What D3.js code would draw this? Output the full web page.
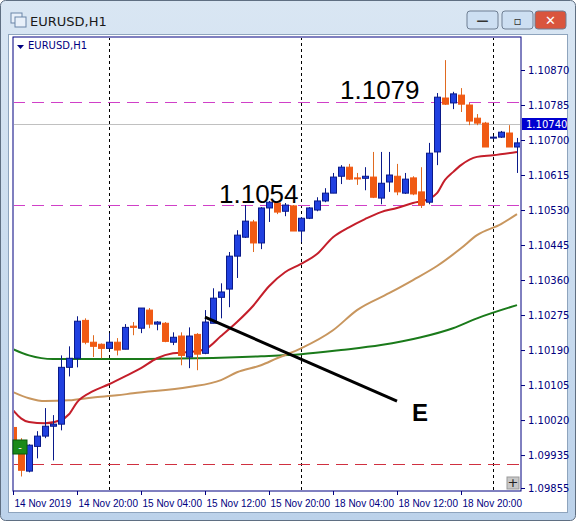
<!DOCTYPE html>
<html><head><meta charset="utf-8">
<script src="https://cdn.jsdelivr.net/npm/d3@7"></script>
<style>body{margin:0;background:#fff}svg{display:block;font-family:Tahoma,"DejaVu Sans",sans-serif}</style>
</head><body><svg id="c" width="576" height="521"></svg>
<script>
const opens=[1.10002,1.09939,1.09896,1.09956,1.09981,1.10005,1.10010,1.10148,1.10170,1.10262,1.10209,1.10204,1.10194,1.10209,1.10192,1.10248,1.10243,1.10287,1.10253,1.10255,1.10209,1.10224,1.10173,1.10228,1.10182,1.10255,1.10318,1.10338,1.10418,1.10464,1.10501,1.10450,1.10535,1.10547,1.10527,1.10540,1.10479,1.10510,1.10530,1.10552,1.10571,1.10612,1.10634,1.10608,1.10607,1.10610,1.10559,1.10598,1.10612,1.10571,1.10608,1.10574,1.10549,1.10671,1.10802,1.10790,1.10809,1.10785,1.10753,1.10741,1.10705,1.10707,1.10717,1.10683];
const highs=[1.10010,1.09976,1.09961,1.09993,1.10049,1.10032,1.10177,1.10199,1.10272,1.10267,1.10226,1.10206,1.10231,1.10219,1.10253,1.10258,1.10292,1.10292,1.10260,1.10258,1.10233,1.10233,1.10245,1.10231,1.10287,1.10340,1.10352,1.10428,1.10481,1.10542,1.10506,1.10537,1.10552,1.10549,1.10547,1.10542,1.10513,1.10537,1.10561,1.10583,1.10620,1.10639,1.10642,1.10620,1.10634,1.10671,1.10671,1.10671,1.10642,1.10620,1.10612,1.10634,1.10693,1.10814,1.10894,1.10817,1.10826,1.10790,1.10763,1.10744,1.10710,1.10722,1.10736,1.10705];
const lows=[1.09947,1.09883,1.09893,1.09927,1.09976,1.09922,1.09995,1.10126,1.10148,1.10204,1.10173,1.10170,1.10192,1.10177,1.10192,1.10226,1.10231,1.10243,1.10238,1.10209,1.10202,1.10153,1.10146,1.10141,1.10180,1.10255,1.10267,1.10294,1.10365,1.10462,1.10428,1.10435,1.10501,1.10520,1.10515,1.10479,1.10452,1.10508,1.10527,1.10549,1.10571,1.10593,1.10603,1.10591,1.10578,1.10559,1.10544,1.10574,1.10566,1.10569,1.10566,1.10535,1.10544,1.10639,1.10785,1.10775,1.10768,1.10736,1.10736,1.10683,1.10702,1.10705,1.10683,1.10620];
const closes=[1.09959,1.09898,1.09959,1.09981,1.10005,1.10010,1.10148,1.10170,1.10260,1.10209,1.10199,1.10194,1.10209,1.10190,1.10245,1.10245,1.10292,1.10253,1.10258,1.10211,1.10221,1.10177,1.10224,1.10180,1.10258,1.10316,1.10331,1.10418,1.10469,1.10503,1.10450,1.10535,1.10549,1.10525,1.10542,1.10479,1.10510,1.10535,1.10552,1.10571,1.10610,1.10634,1.10605,1.10607,1.10612,1.10561,1.10595,1.10615,1.10574,1.10605,1.10569,1.10542,1.10668,1.10804,1.10787,1.10812,1.10787,1.10746,1.10741,1.10683,1.10707,1.10719,1.10683,1.10693];
const maRed=[[0,1.10044],[1,1.10024],[2,1.10015],[4,1.10012],[6,1.10020],[7,1.10034],[8,1.10063],[10,1.10090],[12,1.10107],[14,1.10126],[16,1.10146],[18,1.10170],[20,1.10182],[22,1.10185],[24,1.10192],[26,1.10224],[28,1.10258],[30,1.10297],[32,1.10345],[34,1.10379],[36,1.10399],[38,1.10423],[40,1.10464],[42,1.10488],[44,1.10508],[46,1.10525],[48,1.10535],[50,1.10547],[52,1.10557],[53,1.10571],[54,1.10603],[55,1.10622],[56,1.10639],[58,1.10659],[60,1.10663],[63,1.10671]];
const maTan=[[0,1.10088],[2,1.10073],[4,1.10066],[7,1.10068],[10,1.10075],[13,1.10080],[15,1.10085],[22,1.10100],[26,1.10117],[28,1.10136],[31,1.10153],[33,1.10170],[36,1.10194],[40,1.10238],[43,1.10287],[47,1.10328],[50,1.10360],[53,1.10394],[56,1.10437],[58,1.10469],[61,1.10496],[63,1.10520]];
const maGreen=[[0,1.10192],[2,1.10177],[5,1.10168],[15,1.10168],[23,1.10170],[31,1.10175],[36,1.10180],[41,1.10190],[46,1.10202],[51,1.10221],[55,1.10243],[58,1.10267],[63,1.10299]];
const priceTicks=[1.10870,1.10785,1.10700,1.10615,1.10530,1.10445,1.10360,1.10275,1.10190,1.10105,1.10020,1.09935,1.09855];
const timeTicks=[[0,"14 Nov 2019"],[8,"14 Nov 20:00"],[16,"15 Nov 04:00"],[24,"15 Nov 12:00"],[32,"15 Nov 20:00"],[40,"18 Nov 04:00"],[48,"18 Nov 12:00"],[56,"18 Nov 20:00"]];
const daySeps=[12,36,60];
const levels=[1.10792,1.10542];
const lowLevel=1.09913;
const current=1.10740;
const lineE=[[24,1.10270],[48,1.10066]];

const svg=d3.select("#c");
// window chrome
const g0=svg.append("defs").append("linearGradient").attr("id","tb").attr("x1",0).attr("x2",0).attr("y1",0).attr("y2",1);
g0.append("stop").attr("offset",0).attr("stop-color","#d9e6f3");g0.append("stop").attr("offset",1).attr("stop-color","#bcd2ea");
svg.append("rect").attr("x",0.5).attr("y",0.5).attr("width",575).attr("height",520).attr("rx",5).attr("fill","url(#tb)").attr("stroke","#5f6f82");
svg.append("rect").attr("x",8.5).attr("y",34.5).attr("width",559).attr("height",478).attr("fill","#fff").attr("stroke","#8ea4bd");
// title icon
svg.append("rect").attr("x",11).attr("y",13).attr("width",11).attr("height",10).attr("fill","#e8f0fa").attr("stroke","#6a85a8");
svg.append("rect").attr("x",15).attr("y",17).attr("width",11).attr("height",10).attr("fill","#e8f0fa").attr("stroke","#6a85a8");
svg.append("text").attr("x",30).attr("y",26).attr("font-size",13).attr("fill","#1a1a1a").text("EURUSD,H1");
const btn=[[467,"#cddff2","—"],[502,"#cddff2","▫"],[535,"#d9553d","✕"]];
btn.forEach(([bx,c,t])=>{svg.append("rect").attr("x",bx).attr("y",11).attr("width",31).attr("height",18).attr("rx",3).attr("fill",c).attr("stroke","#6f7f93");
 svg.append("text").attr("x",bx+15.5).attr("y",25).attr("text-anchor","middle").attr("font-size",t==="✕"?13:12).attr("font-weight","bold").attr("fill",t==="✕"?"#fff":"#333").text(t);});

const L=13,R=521,T=37,B=491;
const x=d3.scaleLinear().domain([0,63]).range([13,517]);
const y=d3.scaleLinear().domain([1.09855,1.10870]).range([488,70]);
svg.append("rect").attr("x",L).attr("y",T).attr("width",R-L).attr("height",B-T).attr("fill","#fff").attr("stroke","#000080");
const clip=svg.append("clipPath").attr("id","pc").append("rect").attr("x",L+1).attr("y",T+1).attr("width",R-L-2).attr("height",B-T-2);
const p=svg.append("g").attr("clip-path","url(#pc)");
daySeps.forEach(d=>p.append("line").attr("x1",x(d)+0.5).attr("x2",x(d)+0.5).attr("y1",T).attr("y2",B).attr("stroke","#000").attr("stroke-dasharray","3,3"));
levels.forEach(v=>p.append("line").attr("x1",L).attr("x2",R).attr("y1",Math.round(y(v))+0.5).attr("y2",Math.round(y(v))+0.5).attr("stroke","#d040c8").attr("stroke-dasharray","12,7"));
p.append("line").attr("x1",L).attr("x2",R).attr("y1",Math.round(y(lowLevel))+0.5).attr("y2",Math.round(y(lowLevel))+0.5).attr("stroke","#d03040").attr("stroke-dasharray","12,7");
p.append("line").attr("x1",L).attr("x2",R).attr("y1",Math.round(y(current))+0.5).attr("y2",Math.round(y(current))+0.5).attr("stroke","#c0c0c0");
const ln=d3.line().x(d=>x(d[0])).y(d=>y(d[1])).curve(d3.curveMonotoneX);
p.append("path").attr("d",ln(maGreen)).attr("fill","none").attr("stroke","#1a7a1a").attr("stroke-width",2);
p.append("path").attr("d",ln(maTan)).attr("fill","none").attr("stroke","#c8965e").attr("stroke-width",2);
p.append("path").attr("d",ln(maRed)).attr("fill","none").attr("stroke","#c41e2a").attr("stroke-width",2);
const idx=d3.range(opens.length);
idx.forEach(i=>{
 const up=closes[i]>=opens[i]; const cx=Math.round(x(i))+0.5;
 const col=up?"#2040e0":"#f05a14", edge=up?"#0a1a8a":"#f05a14";
 p.append("line").attr("x1",cx).attr("x2",cx).attr("y1",y(highs[i])).attr("y2",y(lows[i])).attr("stroke",up?"#0a1a8a":"#e06a20");
 const t=Math.min(y(opens[i]),y(closes[i])),h=Math.max(1,Math.abs(y(opens[i])-y(closes[i])));
 p.append("rect").attr("x",cx-3).attr("y",t).attr("width",6).attr("height",h).attr("fill",col).attr("stroke",edge).attr("stroke-width",1);
});
p.append("line").attr("x1",x(lineE[0][0])).attr("y1",y(lineE[0][1])).attr("x2",x(lineE[1][0])).attr("y2",y(lineE[1][1])).attr("stroke","#000").attr("stroke-width",3);
svg.append("text").attr("x",219).attr("y",203).attr("font-size",26).attr("font-family","Liberation Sans, Arial").attr("fill","#000").text("1.1054");
svg.append("text").attr("x",340).attr("y",99).attr("font-size",26).attr("font-family","Liberation Sans, Arial").attr("fill","#000").text("1.1079");
svg.append("text").attr("x",412).attr("y",421).attr("font-size",24).attr("font-weight","bold").attr("font-family","Liberation Sans, Arial").attr("fill","#000").text("E");
// label top left
svg.append("path").attr("d","M17,45 L24,45 L20.5,49 Z").attr("fill","#000080");
svg.append("text").attr("x",28).attr("y",49).attr("font-size",10).attr("fill","#000080").text("EURUSD,H1");
// green box and plus box
svg.append("rect").attr("x",13).attr("y",440).attr("width",14).attr("height",14).attr("fill","#1a8a1a").attr("stroke","#0a5a0a");
svg.append("text").attr("x",20).attr("y",451).attr("text-anchor","middle").attr("font-size",10).attr("fill","#fff").text("-");
svg.append("rect").attr("x",507).attr("y",477).attr("width",12).attr("height",12).attr("fill","#c8c8c8").attr("stroke","#999");
svg.append("text").attr("x",513).attr("y",487).attr("text-anchor","middle").attr("font-size",13).attr("fill","#222").text("+");
// right axis
const ya=svg.append("g").attr("transform",`translate(${R},0)`).call(d3.axisRight(y).tickValues(priceTicks).tickSize(4).tickFormat(d3.format(".5f")));
ya.select(".domain").remove();ya.selectAll("line").attr("stroke","#000080");
ya.selectAll("text").attr("font-size",10).attr("fill","#000080").attr("font-family","Tahoma,DejaVu Sans,sans-serif");
svg.append("rect").attr("x",R+1).attr("y",Math.round(y(current))-6).attr("width",45).attr("height",12).attr("fill","#0000d0");
svg.append("text").attr("x",R+5).attr("y",Math.round(y(current))+4).attr("font-size",10).attr("fill","#fff").text(d3.format(".5f")(current));
// bottom axis
const xa=svg.append("g").attr("transform",`translate(0,${B})`).call(d3.axisBottom(x).tickValues(timeTicks.map(d=>d[0])).tickSize(4).tickFormat((d,i)=>timeTicks[i][1]));
xa.select(".domain").remove();xa.selectAll("line").attr("stroke","#000080");
xa.selectAll("text").attr("text-anchor","start").attr("x",1).attr("dy","0.9em").attr("font-size",10).attr("fill","#000080");
</script></body></html>
